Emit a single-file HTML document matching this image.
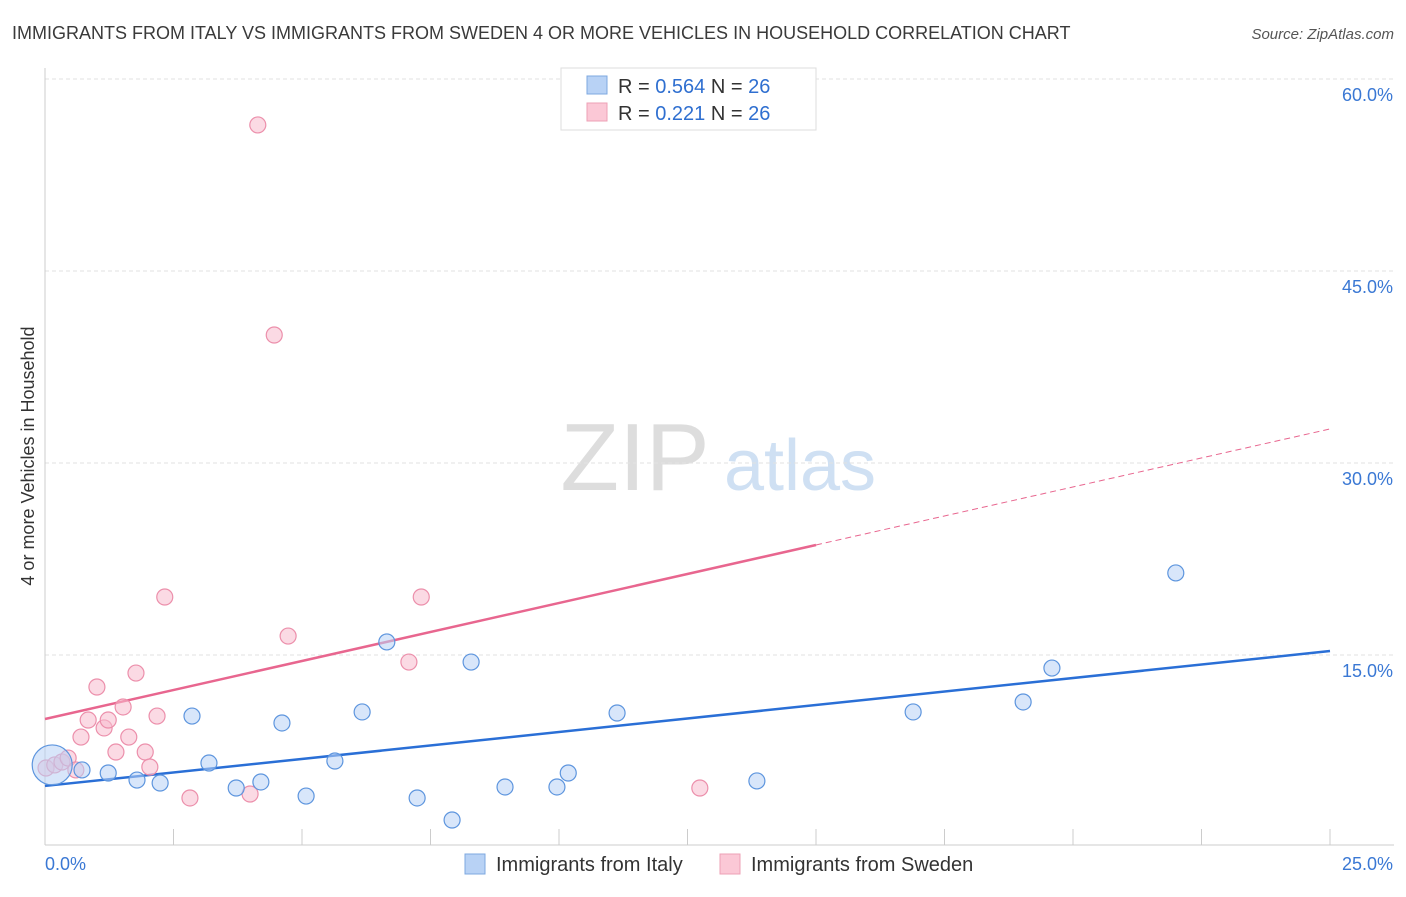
<!DOCTYPE html>
<html><head><meta charset="utf-8"><style>
body{margin:0;background:#fff;font-family:"Liberation Sans",sans-serif}
svg text{font-family:"Liberation Sans",sans-serif}
</style></head><body>
<svg id="c" width="1406" height="892" xmlns="http://www.w3.org/2000/svg">
<text x="12" y="39" font-size="18" fill="#3a3a3a">IMMIGRANTS FROM ITALY VS IMMIGRANTS FROM SWEDEN 4 OR MORE VEHICLES IN HOUSEHOLD CORRELATION CHART</text>
<text x="1394" y="39" font-size="15" fill="#555" font-style="italic" text-anchor="end">Source: ZipAtlas.com</text>
<text transform="translate(34,456) rotate(-90)" font-size="18" fill="#333" text-anchor="middle">4 or more Vehicles in Household</text>
<g><text x="635" y="490" font-size="96" fill="#ddd" font-family="Liberation Serif" text-anchor="middle">ZIP</text><text x="800" y="490" font-size="72" fill="#cfe0f3" text-anchor="middle">atlas</text></g>
<g id="grid"></g><g id="lines"></g><g id="pts"></g>
<g>
<rect x="561" y="68" width="255" height="62" fill="#fff" stroke="#ddd"/>
<rect x="587" y="76" width="20" height="18" fill="#b8d2f5" stroke="#7ea8e0"/>
<text x="618" y="93" font-size="20" fill="#333">R = <tspan fill="#2f6fd0">0.564</tspan>   N = <tspan fill="#2f6fd0">26</tspan></text>
<rect x="587" y="103" width="20" height="18" fill="#fbc8d6" stroke="#eea0b6"/>
<text x="618" y="120" font-size="20" fill="#333">R =  <tspan fill="#2f6fd0">0.221</tspan>   N = <tspan fill="#2f6fd0">26</tspan></text>
</g>
<g>
<rect x="465" y="854" width="20" height="20" fill="#b8d2f5" stroke="#7ea8e0"/>
<text x="496" y="871" font-size="20" fill="#333">Immigrants from Italy</text>
<rect x="720" y="854" width="20" height="20" fill="#fbc8d6" stroke="#eea0b6"/>
<text x="751" y="871" font-size="20" fill="#333">Immigrants from Sweden</text>
</g>
</svg>
<script>
const xTicks=[0,2.5,5,7.5,10,12.5,15,17.5,20,22.5,25];
const yTicks=[15,30,45,60];
const yTickLabels=["15.0%","30.0%","45.0%","60.0%"];
const italyX=[0.14,0.72,1.23,1.79,2.24,2.86,3.19,3.72,4.2,4.61,5.08,5.64,6.17,6.65,7.24,7.92,8.29,8.95,9.96,10.18,11.13,13.85,16.89,19.03,19.59,22.0];
const italyY=[6.41,6.02,5.78,5.23,5.0,10.23,6.56,4.61,5.08,9.69,3.98,6.72,10.55,16.02,3.83,2.11,14.45,4.69,4.69,5.78,10.47,5.16,10.55,11.33,13.98,21.41];
const swedenX=[0.02,0.19,0.33,0.45,0.6,0.7,0.84,1.01,1.15,1.23,1.38,1.52,1.63,1.77,1.95,2.04,2.18,2.33,2.82,3.99,4.14,4.46,4.73,7.08,7.32,12.74];
const swedenY=[6.17,6.41,6.64,6.95,6.02,8.59,9.92,12.5,9.3,9.92,7.42,10.94,8.59,13.59,7.42,6.25,10.23,19.53,3.83,4.14,56.41,40.0,16.48,14.45,19.53,4.61];
const italyTrend=[4.77,15.31];
const swedenTrend=[10.0,32.66];
const swedenSolidEnd=15;
const NS="http://www.w3.org/2000/svg";
const X=v=>45+v/25*1285, Y=v=>847-v/15*192;
function mk(t,a,p){const e=document.createElementNS(NS,t);for(const k in a)e.setAttribute(k,a[k]);document.getElementById(p).appendChild(e);return e;}
const svg=document.getElementById('c');
yTicks.forEach((t,i)=>{
 const l=mk('line',{x1:45,x2:1394,y1:Y(t),y2:Y(t),stroke:'#e2e2e2','stroke-dasharray':'4,3'},'grid');
 
 
 const tx=mk('text',{x:1393,y:Y(t)+22,'font-size':18,fill:'#3a78d4','text-anchor':'end'},'grid');
 tx.textContent=yTickLabels[i];
 
 
});
const ax=mk('line',{x1:45,x2:45,y1:68,y2:845,stroke:'#ccc'},'grid');


const bx=mk('line',{x1:45,x2:1394,y1:845,y2:845,stroke:'#ccc'},'grid');


xTicks.forEach(t=>{const l=mk('line',{x1:X(t),x2:X(t),y1:829,y2:845,stroke:'#ccc'},'grid');
 
 });
[[0,"0.0%",'start',45],[25,"25.0%",'end',1393]].forEach(d=>{const t=mk('text',{x:d[3],y:870,'font-size':18,fill:'#3a78d4','text-anchor':d[2]},'grid');t.textContent=d[1];
 
 });
function pts(xs,ys,fill,stroke,name){xs.forEach((x,i)=>{const c=mk('circle',{cx:X(x),cy:Y(ys[i]),r:(i==0&&name=='italy-point')?20:8,fill:fill,'fill-opacity':0.55,stroke:stroke,'stroke-width':1.2},'pts');
 
 });}
pts(swedenX,swedenY,'#f8bccd','#ec8fab','sweden-point');
pts(italyX,italyY,'#b8d2f5','#5d95de','italy-point');
const bl=mk('line',{x1:X(0),y1:Y(italyTrend[0]),x2:X(25),y2:Y(italyTrend[1]),stroke:'#2a6fd6','stroke-width':2.5},'lines');


const sy=swedenTrend[0]+(swedenTrend[1]-swedenTrend[0])*swedenSolidEnd/25;
const pl=mk('line',{x1:X(0),y1:Y(swedenTrend[0]),x2:X(swedenSolidEnd),y2:Y(sy),stroke:'#e8668f','stroke-width':2.5},'lines');


const pd=mk('line',{x1:X(swedenSolidEnd),y1:Y(sy),x2:X(25),y2:Y(swedenTrend[1]),stroke:'#e8668f','stroke-width':1,'stroke-dasharray':'6,4'},'lines');


</script>
</body></html>
